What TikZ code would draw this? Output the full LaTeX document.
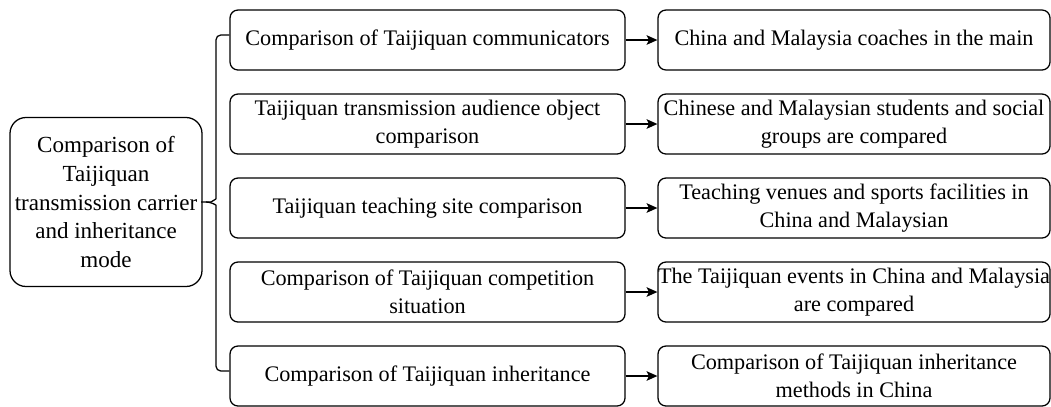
\documentclass[tikz,border=0pt]{standalone}
\usepackage{fontspec}
\setmainfont{Liberation Serif}
\usetikzlibrary{arrows.meta}
\begin{document}
\begin{tikzpicture}[
	every node/.style={font=\fontsize{15.8}{20.2}\selectfont},
	rootbox/.style={draw,line width=0.9pt,rounded corners=0.4cm,align=center,minimum width=4.8cm,minimum height=4.225cm,inner sep=0pt,font=\fontsize{16.4}{20.4}\selectfont},
	itembox/.style={draw,line width=0.9pt,rounded corners=0.2cm,align=center,minimum width=9.875cm,minimum height=1.5cm,inner sep=0pt},
	resultbox/.style={itembox,minimum width=9.8cm},
	brace/.style={line width=0.9pt,rounded corners=0.12cm},
	arr/.style={line width=0.9pt,-{Stealth[length=0.27cm,width=0.24cm,inset=0.06cm]}}]
	\useasboundingbox (0,0) rectangle (26.275,-10.15);

	\node[rootbox] (root) at (2.65,-5.05) {Comparison of\\Taijiquan\\transmission carrier\\and inheritance\\mode};

	\node[itembox] (m1) at (10.6875,-1.0) {Comparison of Taijiquan communicators};
	\node[itembox] (m2) at (10.6875,-3.1) {Taijiquan transmission audience object\\comparison};
	\node[itembox] (m3) at (10.6875,-5.2) {Taijiquan teaching site comparison};
	\node[itembox] (m4) at (10.6875,-7.3) {Comparison of Taijiquan competition\\situation};
	\node[itembox] (m5) at (10.6875,-9.4) {Comparison of Taijiquan inheritance};

	\node[resultbox] (r1) at (21.35,-1.0) {China and Malaysia coaches in the main};
	\node[resultbox] (r2) at (21.35,-3.1) {Chinese and Malaysian students and social\\groups are compared};
	\node[resultbox] (r3) at (21.35,-5.2) {Teaching venues and sports facilities in\\China and Malaysian};
	\node[resultbox] (r4) at (21.35,-7.3) {The Taijiquan events in China and Malaysia\\are compared};
	\node[resultbox] (r5) at (21.35,-9.4) {Comparison of Taijiquan inheritance\\methods in China};

	\coordinate (spine) at (5.4,-5.05);
	\draw[brace] ([yshift=1.25mm]m1.west) -| ([yshift=2mm]spine) to[out=-90,in=0] ([xshift=-2.5mm]spine) -- (root.east);
	\draw[brace] ([yshift=1.25mm]m5.west) -| ([yshift=-2mm]spine) to[out=90,in=0] ([xshift=-2.5mm]spine);

	\draw[arr] (m1) -- (r1);
	\draw[arr] (m2) -- (r2);
	\draw[arr] (m3) -- (r3);
	\draw[arr] (m4) -- (r4);
	\draw[arr] (m5) -- (r5);
\end{tikzpicture}
\end{document}
